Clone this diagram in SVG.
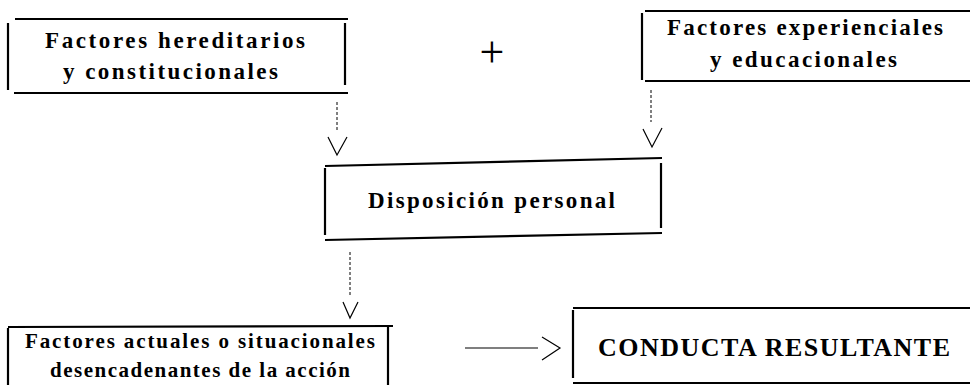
<svg xmlns="http://www.w3.org/2000/svg" width="972" height="385" viewBox="0 0 972 385">
<style>
.b{stroke:#000;stroke-width:2.2;fill:none;stroke-linecap:butt}
.t{font-family:"Liberation Serif","Times New Roman",serif;font-weight:bold;fill:#000;text-anchor:start}
.d{stroke:#000;stroke-width:1;stroke-dasharray:3,2;fill:none}
.h{stroke:#000;stroke-width:1.2;fill:none}
</style>
<rect width="972" height="385" fill="#fff"/>
<g id="n1">
<line class="b" x1="15" y1="19" x2="348" y2="19"/>
<line class="b" x1="8" y1="23" x2="8" y2="90"/>
<line class="b" x1="345" y1="23" x2="345" y2="85"/>
<line class="b" x1="14" y1="93" x2="348" y2="93"/>
<text class="t" x="45" y="48" font-size="23" textLength="260" lengthAdjust="spacing">Factores hereditarios</text>
<text class="t" x="63" y="79" font-size="23" textLength="215" lengthAdjust="spacing">y constitucionales</text>
</g>
<g id="plus">
<text x="492" y="67" font-family="Liberation Serif,serif" font-size="44" font-weight="normal" text-anchor="middle">+</text>
</g>
<g id="n2">
<line class="b" x1="645" y1="11" x2="970" y2="11"/>
<line class="b" x1="642" y1="13" x2="642" y2="80"/>
<line class="b" x1="645" y1="81" x2="970" y2="81"/>
<text class="t" x="667" y="35" font-size="23" textLength="276" lengthAdjust="spacing">Factores experienciales</text>
<text class="t" x="710" y="67" font-size="23" textLength="187" lengthAdjust="spacing">y educacionales</text>
</g>
<g id="n3">
<line class="b" x1="325" y1="166" x2="662" y2="158"/>
<line class="b" x1="325" y1="168" x2="325" y2="235"/>
<line class="b" x1="661" y1="163" x2="661" y2="228"/>
<line class="b" x1="325" y1="240" x2="662" y2="233"/>
<text class="t" x="368" y="208" font-size="23" textLength="247" lengthAdjust="spacing">Disposición personal</text>
</g>
<g id="n4">
<line class="b" x1="8" y1="327" x2="393" y2="326"/>
<line class="b" x1="8" y1="328" x2="8" y2="385"/>
<line class="b" x1="388" y1="325" x2="388" y2="385"/>
<text class="t" x="25" y="348" font-size="21" textLength="350" lengthAdjust="spacing">Factores actuales o situacionales</text>
<text class="t" x="50" y="377" font-size="21" textLength="300" lengthAdjust="spacing">desencadenantes de la acción</text>
</g>
<g id="n5">
<line class="b" x1="573" y1="308" x2="970" y2="308"/>
<line class="b" x1="573" y1="310" x2="573" y2="378"/>
<line class="b" x1="573" y1="383" x2="970" y2="383"/>
<text class="t" x="598" y="356" font-size="26" textLength="352" lengthAdjust="spacing">CONDUCTA RESULTANTE</text>
</g>
<g id="connectors">
<line class="d" x1="337" y1="102" x2="337" y2="131"/>
<polyline class="h" points="328,137 337,155 347,137"/>
<line class="d" x1="651" y1="90" x2="651" y2="122"/>
<polyline class="h" points="643,129 652,147 662,128"/>
<line class="d" x1="350" y1="252" x2="350" y2="295"/>
<polyline class="h" points="343,302 350,318 358,302"/>
<line class="h" x1="465" y1="348" x2="538" y2="348"/>
<polyline class="h" points="542,337 560,348 542,360"/>
</g>
</svg>
